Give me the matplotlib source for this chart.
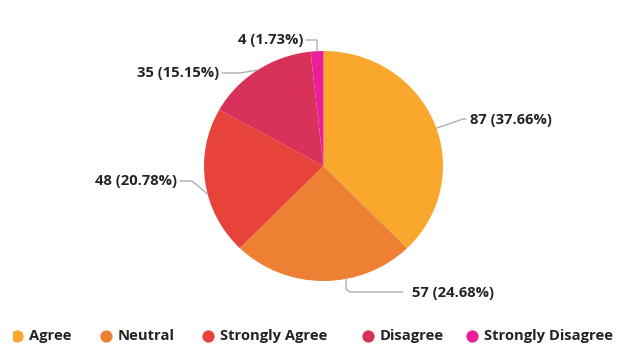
import numpy as np
import matplotlib
matplotlib.use("Agg")
import matplotlib.pyplot as plt

# survey responses
categories = ["Agree", "Neutral", "Strongly Agree", "Disagree", "Strongly Disagree"]
counts = [87, 57, 48, 35, 4]
colors = ["#F9A82D", "#EE8034", "#E8433A", "#D8315A", "#EA1E9B"]

W, H = 643, 356
TEXT = "#252423"
LINE = "#A8A8A8"
plt.rcParams["font.family"] = ["Open Sans", "DejaVu Sans"]

# pie geometry in pixels (slightly wider than tall)
cx, cy, rx, ry = 323.5, 166.0, 119.5, 115.0

# leader layout: angle nudge, bend points, label anchor
nudges = [-3, 11, 6, 0, 0]
bends = [
    [(463, 119), (466, 119)],
    [(346, 289), (350, 292), (403, 292)],
    [(192, 181), (180, 181)],
    [(240, 73), (222, 73)],
    [(317, 40), (306, 40)],
]
label_pos = [(470, 120, "left"), (412, 293, "left"), (177, 181, "right"),
             (219, 73, "right"), (303, 40, "right")]

fig = plt.figure(figsize=(W / 100, H / 100), dpi=100)
fig.patch.set_facecolor("white")

ax = fig.add_axes([(cx - rx) / W, 1 - (cy + ry) / H, 2 * rx / W, 2 * ry / H])
ax.pie(counts, colors=colors, startangle=90, counterclock=False, radius=1,
       wedgeprops=dict(linewidth=0))
ax.set_xlim(-1, 1)
ax.set_ylim(-1, 1)
ax.set_aspect("auto")
ax.axis("off")

ov = fig.add_axes([0, 0, 1, 1])
ov.set_xlim(0, W)
ov.set_ylim(H, 0)
ov.axis("off")

total = sum(counts)
cum = np.cumsum([0] + counts[:-1])
for i, (v, c0) in enumerate(zip(counts, cum)):
    mid = 90 - 360 * (c0 + v / 2) / total + nudges[i]
    ax0 = cx + rx * np.cos(np.radians(mid))
    ay0 = cy - ry * np.sin(np.radians(mid))
    pts = [(ax0, ay0)] + bends[i]
    xs, ys = zip(*pts)
    ov.plot(xs, ys, color=LINE, lw=0.9, solid_capstyle="round")
    tx, ty, ha = label_pos[i]
    ov.text(tx, ty, f"{v} ({v / total * 100:.2f}%)", ha=ha, va="center",
            fontsize=10.6, fontweight="bold", color=TEXT)

# legend row along the bottom
lg = fig.add_axes([13 / W, 0, 1 - 13 / W, 40 / H])
lg.set_xlim(13, W)
lg.set_ylim(40, 0)
lg.axis("off")
marker_x = [17, 106, 208, 368, 472]
for name, col, mx in zip(categories, colors, marker_x):
    lg.plot([mx], [20], "o", ms=7.8, color=col, clip_on=True)
    lg.text(mx + 12, 20, name, ha="left", va="center", fontsize=10.6,
            fontweight="bold", color=TEXT)

fig.savefig("out.png", dpi=100, facecolor="white")
